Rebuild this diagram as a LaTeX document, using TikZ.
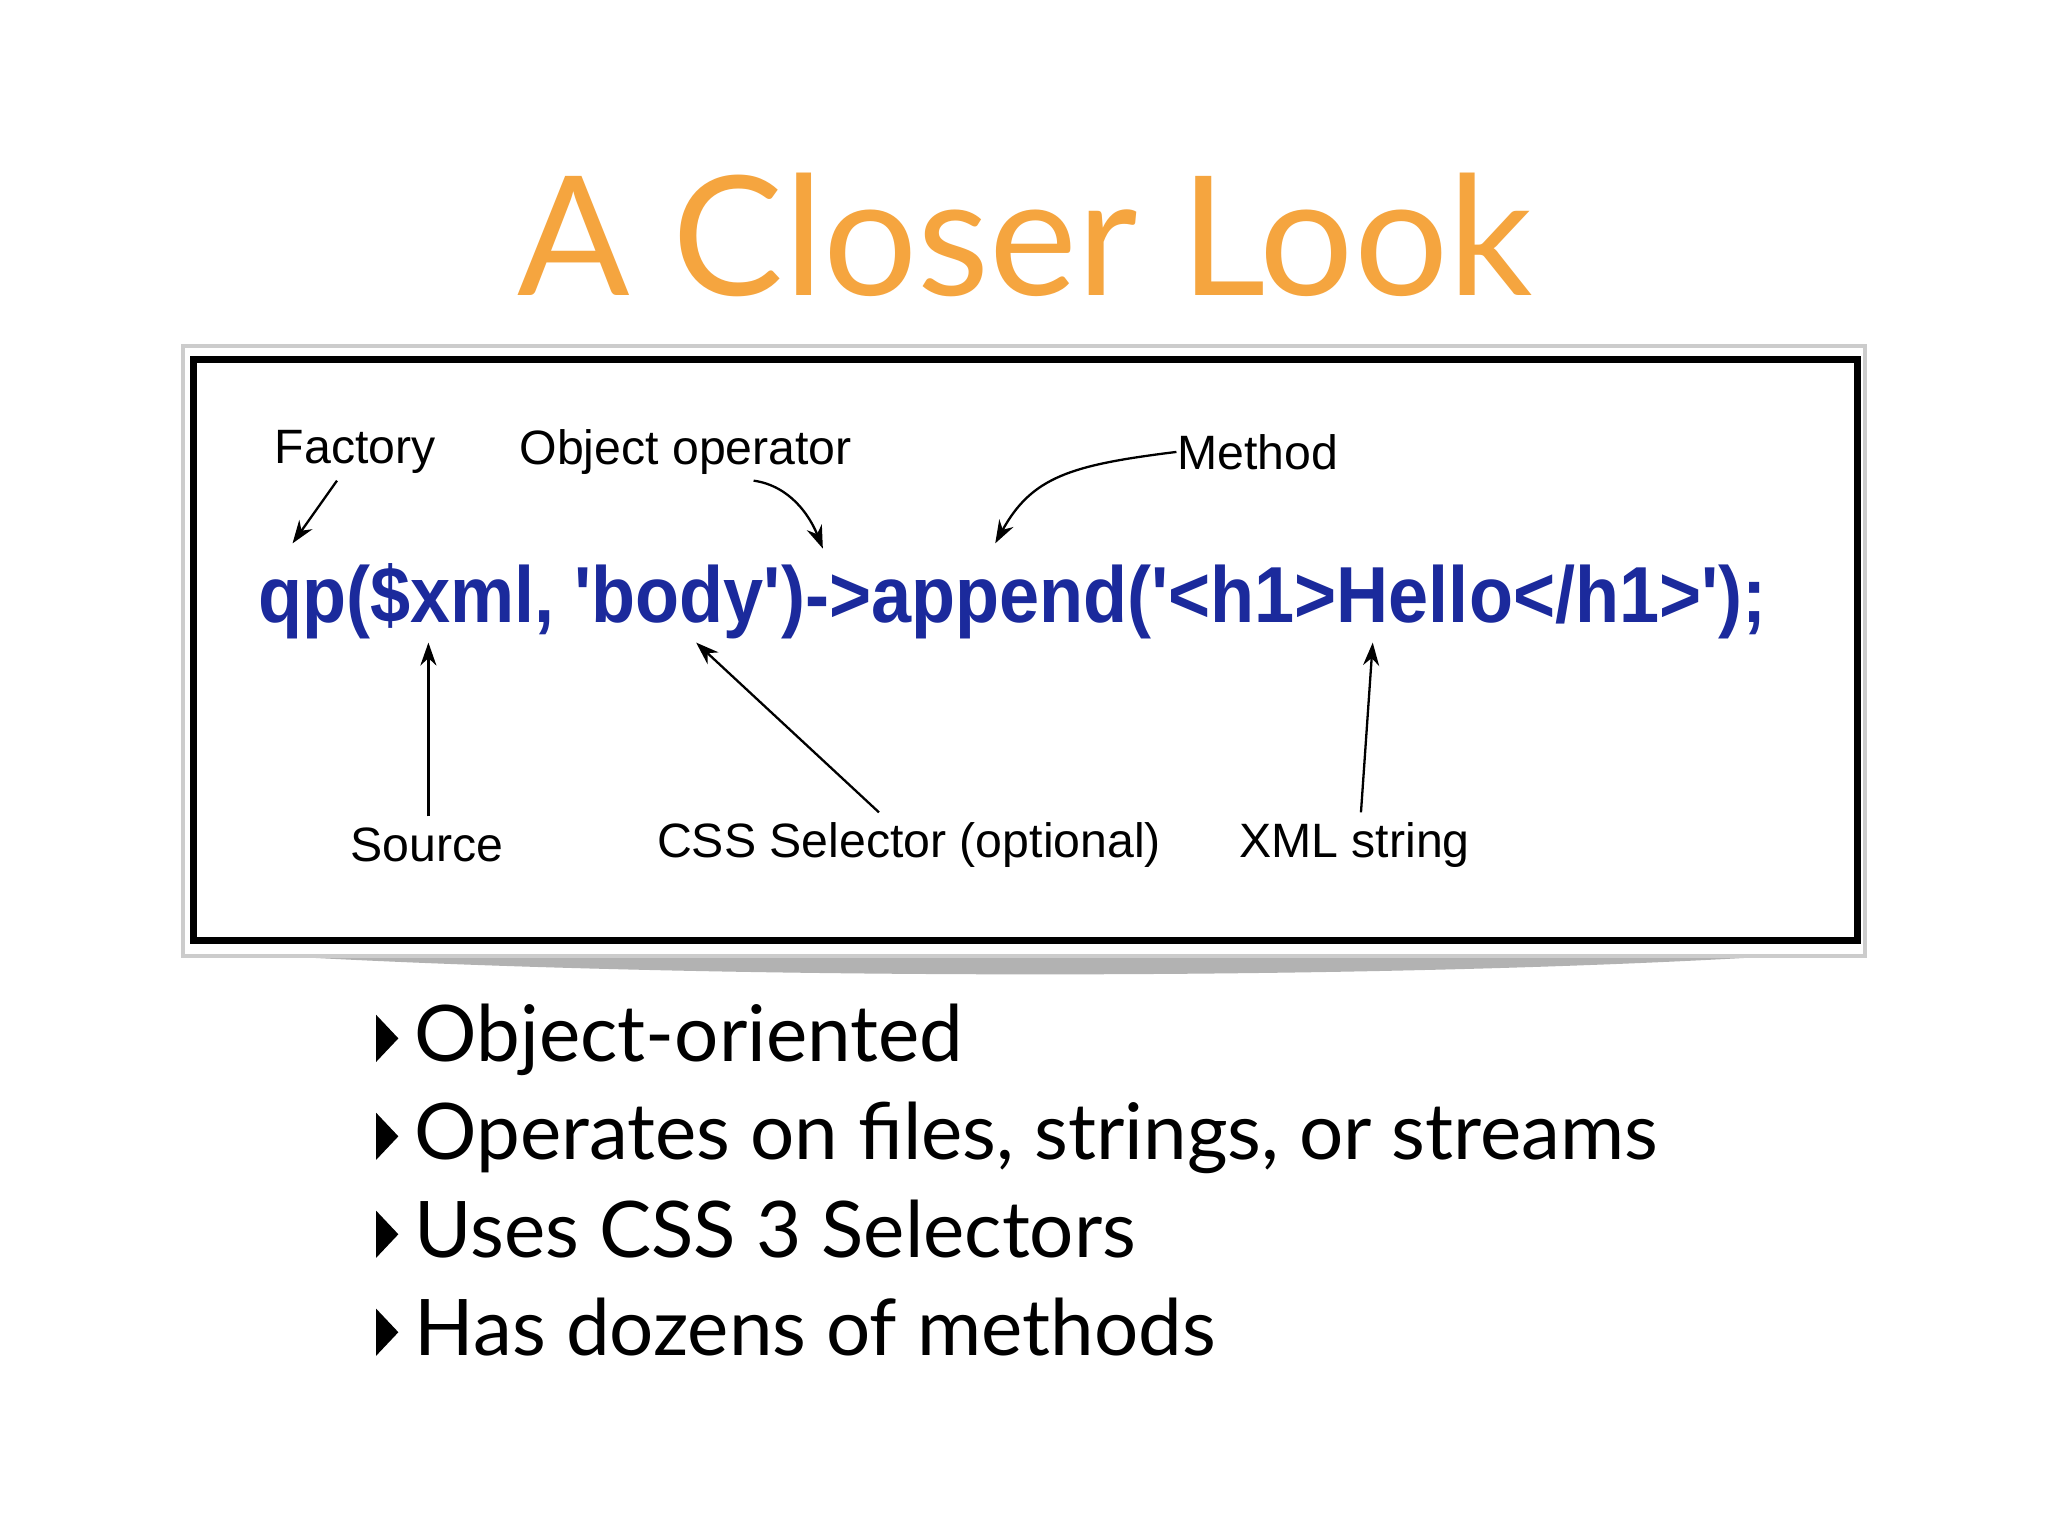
\documentclass[tikz,border=0pt]{standalone}
\usepackage{fontspec}
\setmainfont{Lato}
\newfontfamily\arial{Liberation Sans}
\usetikzlibrary{arrows.meta}
\definecolor{ttl}{HTML}{F5A53F}
\definecolor{code}{HTML}{1B2A9C}
\tikzset{lbl/.style={font=\arial\fontsize{10.5}{12}\selectfont, inner sep=0pt},
 arr/.style={-{Stealth[length=5pt,width=3.5pt]}, line width=0.5pt},
 bul/.style={anchor=base west, inner sep=0pt, font=\fontsize{17}{20}\selectfont}}
\begin{document}
\begin{tikzpicture}[x=0.01cm,y=-0.01cm]
\useasboundingbox (0,0) rectangle (1568,1176);
\fill[white] (0,0) rectangle (1568,1176);
\node[font=\fontsize{36.2}{40}\selectfont, text=ttl, inner sep=0pt] (title) at (785,180) {A Closer Look};
% shadow and frame
\fill[gray!60] (150,728) .. controls (500,752) and (1100,752) .. (1420,728) -- (1420,722) -- (150,722) -- cycle;
\draw[gray!40, line width=1pt, fill=white] (140,265) rectangle (1428,732);
\draw[black, line width=1.6pt] (148,275) rectangle (1422,720);
\node[font=\arial\bfseries\fontsize{17.3}{20}\selectfont, text=code, inner sep=0pt, anchor=west] (code) at (197,460) {\scalebox{0.907}[1]{qp(\$xml, 'body')->append('<h1>Hello</h1>');}};
\node[lbl] (fac) at (272,346) {Factory};
\node[lbl] (obj) at (525,346) {Object operator};
\node[lbl] (met) at (963,346) {Method};
\node[lbl] (src) at (327,647) {Source};
\node[lbl] (css) at (696,647) {CSS Selector (optional)};
\node[lbl] (xml) at (1037,647) {XML string};
\coordinate (fa) at (224,416);
\coordinate (oa) at (630,420);
\coordinate (ma) at (762,416);
\coordinate (sa) at (328,492);
\coordinate (ca) at (533,492);
\coordinate (xa) at (1051,492);
\draw[arr] (258,368) -- (fa);
\draw[arr] (577,368) .. controls (605,372) and (620,395) .. (oa);
\draw[arr] (met.west) .. controls (820,356) and (790,365) .. (ma);
\draw[arr] (328,625) -- (sa);
\draw[arr] (673,622) -- (ca);
\draw[arr] (1042,622) -- (xa);
\foreach \y/\t [count=\i] in {797/Object-oriented,872/{Operates on files, strings, or streams},947/Uses CSS 3 Selectors,1022/Has dozens of methods}{
 \fill (288,\y-20) -- (305,\y-2) -- (288,\y+16) -- cycle;
 \node[bul] (b\i) at (317,\y+16) {\t};
}
\end{tikzpicture}
\end{document}
